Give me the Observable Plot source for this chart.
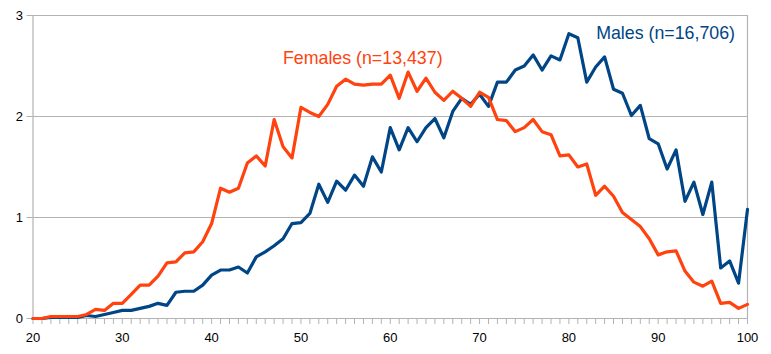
<!DOCTYPE html>
<html>
<head>
<meta charset="utf-8">
<script src="https://cdn.jsdelivr.net/npm/d3@7"></script>
<script src="https://cdn.jsdelivr.net/npm/@observablehq/plot@0.6"></script>
<style>
  html, body { margin: 0; padding: 0; background: #fff; }
  #chart svg { display: block; }
</style>
</head>
<body>
<div id="chart"></div>
<script>
const ages = d3.range(20, 101);
const females = [0, 0, 0.02, 0.02, 0.02, 0.02, 0.04, 0.09, 0.08, 0.15,
  0.15, 0.24, 0.33, 0.33, 0.42, 0.55, 0.56, 0.65, 0.66, 0.76,
  0.94, 1.29, 1.25, 1.29, 1.54, 1.61, 1.51, 1.97, 1.70, 1.59,
  2.09, 2.04, 2.00, 2.12, 2.30, 2.37, 2.32, 2.31, 2.32, 2.32,
  2.41, 2.18, 2.44, 2.25, 2.38, 2.24, 2.16, 2.25, 2.18, 2.10,
  2.24, 2.19, 1.97, 1.96, 1.85, 1.89, 1.97, 1.85, 1.82, 1.61,
  1.62, 1.50, 1.53, 1.22, 1.31, 1.21, 1.05, 0.98, 0.91, 0.79,
  0.63, 0.66, 0.67, 0.47, 0.36, 0.32, 0.37, 0.15, 0.16, 0.10,
  0.14];
const males = [0, 0, 0.01, 0.01, 0.01, 0.01, 0.03, 0.02, 0.04, 0.06,
  0.08, 0.08, 0.10, 0.12, 0.15, 0.13, 0.26, 0.27, 0.27, 0.33,
  0.43, 0.48, 0.48, 0.51, 0.45, 0.61, 0.66, 0.72, 0.79, 0.94,
  0.95, 1.04, 1.33, 1.15, 1.36, 1.27, 1.42, 1.31, 1.60, 1.45,
  1.89, 1.67, 1.89, 1.75, 1.89, 1.98, 1.79, 2.05, 2.18, 2.12,
  2.22, 2.10, 2.34, 2.34, 2.46, 2.50, 2.61, 2.46, 2.60, 2.56,
  2.82, 2.78, 2.34, 2.49, 2.59, 2.27, 2.23, 2.01, 2.11, 1.78,
  1.73, 1.48, 1.67, 1.16, 1.35, 1.03, 1.35, 0.50, 0.57, 0.35,
  1.08];
const yTicks = [0, 1, 2, 3];
const xLabels = [20, 30, 40, 50, 60, 70, 80, 90, 100];
const seriesLabels = ["Females (n=13,437)", "Males (n=16,706)"];
const labelPos = [{x: 56.92, y: 2.575}, {x: 90.83, y: 2.823}];

const colF = "#ff420e";
const colM = "#004586";
const gray = "#b3b3b3";

const femaleData = ages.map((a, i) => ({age: a, v: females[i]}));
const maleData = ages.map((a, i) => ({age: a, v: males[i]}));
const labels = seriesLabels.map((t, i) => ({text: t, x: labelPos[i].x, y: labelPos[i].y, c: i === 0 ? colF : colM}));

const chart = Plot.plot({
  width: 771,
  height: 354,
  marginLeft: 32.5,
  marginRight: 24,
  marginTop: 15,
  marginBottom: 36,
  style: {fontFamily: "'Liberation Sans', Arial, sans-serif", background: "#fff"},
  x: {domain: [20, 100]},
  y: {domain: [0, 3]},
  marks: [
    Plot.gridY(yTicks, {stroke: gray, strokeOpacity: 1, strokeWidth: 1.2}),
    Plot.ruleX([20, 100], {stroke: gray, strokeWidth: 1.2}),
    Plot.axisY({ticks: yTicks, tickSize: 6, tickPadding: 4, stroke: gray, strokeOpacity: 1, fill: "#000", fontSize: 13, label: null, tickFormat: d3.format("d")}),
    Plot.axisX({ticks: ages, tickSize: 6, tickPadding: 8, stroke: gray, strokeOpacity: 1, fill: "#000", fontSize: 13, label: null,
      tickFormat: d => xLabels.includes(d) ? String(d) : ""}),
    Plot.line(maleData, {x: "age", y: "v", stroke: colM, strokeWidth: 3.2, strokeLinejoin: "round"}),
    Plot.line(femaleData, {x: "age", y: "v", stroke: colF, strokeWidth: 3.2, strokeLinejoin: "round"}),
    Plot.text(labels, {x: "x", y: "y", text: "text", fill: "c", fontSize: 17.8, textAnchor: "middle"})
  ]
});
document.getElementById("chart").appendChild(chart);
</script>
</body>
</html>
